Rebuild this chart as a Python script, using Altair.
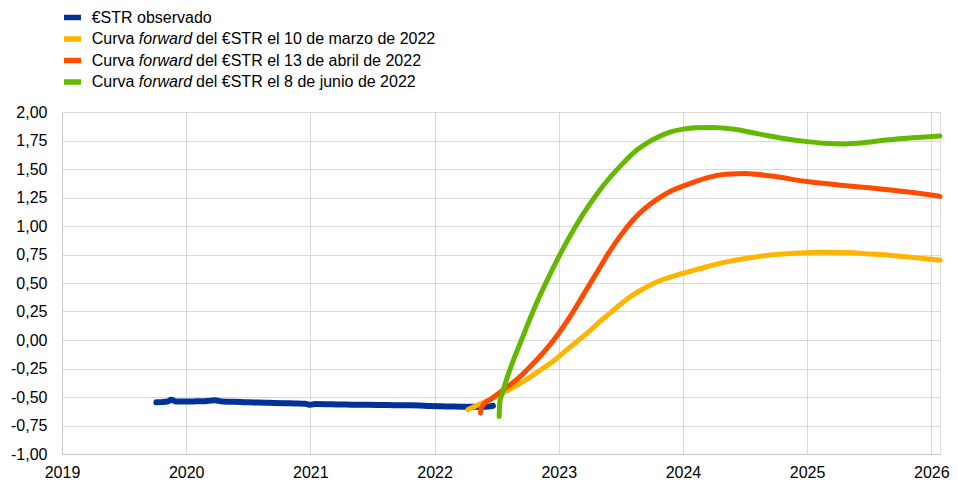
import altair as alt
import pandas as pd

FONT = "Liberation Sans"

# ---- axis values ----
x_years = [2019, 2020, 2021, 2022, 2023, 2024, 2025, 2026]
y_ticks = [-1.0, -0.75, -0.5, -0.25, 0.0, 0.25, 0.5, 0.75, 1.0, 1.25, 1.5, 1.75, 2.0]

# ---- observed €STR (decimal year, %) ----
obs_x = [2019.76, 2019.80, 2019.85, 2019.88, 2019.92, 2020.00, 2020.08, 2020.17, 2020.23,
         2020.29, 2020.38, 2020.46, 2020.54, 2020.63, 2020.71, 2020.79, 2020.88, 2020.96,
         2021.00, 2021.04, 2021.13, 2021.21, 2021.29, 2021.38, 2021.46, 2021.54, 2021.63,
         2021.71, 2021.79, 2021.88, 2021.96, 2022.04, 2022.13, 2022.21, 2022.29, 2022.38,
         2022.44, 2022.47]
obs_y = [-0.547, -0.545, -0.540, -0.525, -0.540, -0.540, -0.538, -0.535, -0.528,
         -0.540, -0.542, -0.545, -0.548, -0.550, -0.553, -0.555, -0.557, -0.560,
         -0.568, -0.562, -0.563, -0.565, -0.566, -0.568, -0.569, -0.570, -0.571,
         -0.572, -0.573, -0.575, -0.580, -0.582, -0.583, -0.585, -0.585, -0.585,
         -0.583, -0.578]

# ---- forward curve 10 March 2022 ----
mar_x = [2022.27, 2022.35, 2022.45, 2022.55, 2022.65, 2022.75, 2022.85, 2022.95, 2023.05,
         2023.15, 2023.25, 2023.35, 2023.45, 2023.55, 2023.65, 2023.75, 2023.85, 2023.95,
         2024.05, 2024.20, 2024.35, 2024.50, 2024.70, 2024.90, 2025.10, 2025.30, 2025.50,
         2025.70, 2025.90, 2026.07]
mar_y = [-0.61, -0.57, -0.52, -0.465, -0.405, -0.34, -0.265, -0.19, -0.10,
         -0.01, 0.08, 0.18, 0.27, 0.36, 0.43, 0.49, 0.535, 0.57,
         0.60, 0.645, 0.685, 0.715, 0.745, 0.76, 0.77, 0.768, 0.755,
         0.74, 0.72, 0.70]

# ---- forward curve 13 April 2022 ----
apr_x = [2022.37, 2022.375, 2022.40, 2022.45, 2022.50, 2022.60, 2022.70, 2022.80, 2022.90,
         2023.00, 2023.10, 2023.20, 2023.30, 2023.40, 2023.50, 2023.60, 2023.70, 2023.80,
         2023.90, 2024.00, 2024.10, 2024.20, 2024.35, 2024.50, 2024.70, 2025.00, 2025.25,
         2025.50, 2025.80, 2026.07]
apr_y = [-0.64, -0.60, -0.56, -0.52, -0.48, -0.40, -0.31, -0.20, -0.08,
         0.06, 0.22, 0.40, 0.58, 0.76, 0.92, 1.055, 1.16, 1.24,
         1.305, 1.35, 1.39, 1.425, 1.455, 1.46, 1.44, 1.39, 1.36,
         1.335, 1.30, 1.26]

# ---- forward curve 8 June 2022 ----
jun_x = [2022.52, 2022.525, 2022.55, 2022.60, 2022.70, 2022.80, 2022.90, 2023.00, 2023.10,
         2023.20, 2023.30, 2023.40, 2023.50, 2023.60, 2023.70, 2023.80, 2023.90, 2024.00,
         2024.10, 2024.25, 2024.40, 2024.60, 2024.80, 2025.00, 2025.15, 2025.30, 2025.45,
         2025.60, 2025.80, 2026.07]
jun_y = [-0.67, -0.55, -0.45, -0.28, 0.00, 0.27, 0.51, 0.73, 0.93,
         1.11, 1.27, 1.41, 1.53, 1.64, 1.72, 1.78, 1.825, 1.85,
         1.862, 1.865, 1.85, 1.81, 1.77, 1.74, 1.725, 1.72, 1.73,
         1.75, 1.77, 1.79]

# ---- legend ----
legend_a = ["€STR observado", "Curva", "Curva", "Curva"]
legend_b = ["", "forward", "forward", "forward"]
legend_c = ["", "del €STR el 10 de marzo de 2022", "del €STR el 13 de abril de 2022",
            "del €STR el 8 de junio de 2022"]
colors = ["#003299", "#FFB400", "#FF4B00", "#65B800"]

x_scale = alt.Scale(domain=[2019, 2026.07], nice=False, zero=False)
y_scale = alt.Scale(domain=[-1, 2], nice=False, zero=False)

x_axis = alt.Axis(values=x_years, format="d", title=None, grid=True, ticks=False, tickSize=0,
                  labelPadding=10, labelFlush=False, labelOverlap=False, labelBound=False,
                  labelFontSize=16, labelFont=FONT, labelColor="#000000",
                  domainColor="#c8c8c8", domainWidth=1, gridColor="#d9d9d9", gridWidth=1)
y_axis = alt.Axis(values=y_ticks, title=None, grid=True, ticks=False, tickSize=0,
                  labelPadding=15, labelOverlap=False, labelFlush=False,
                  labelFontSize=16, labelFont=FONT, labelColor="#000000",
                  labelExpr="(datum.value < 0 ? '-' : '') + replace(format(abs(datum.value), '.2f'), '.', ',')",
                  domainColor="#c8c8c8", domainWidth=1, gridColor="#d9d9d9", gridWidth=1)


def line_layer(xs, ys, color, width):
    df = pd.DataFrame({"x": xs, "y": ys})
    return alt.Chart(df).mark_line(
        color=color, strokeWidth=width, interpolate="monotone",
        strokeCap="round", strokeJoin="round"
    ).encode(
        x=alt.X("x:Q", scale=x_scale, axis=x_axis),
        y=alt.Y("y:Q", scale=y_scale, axis=y_axis),
    )


layers = [
    line_layer(obs_x, obs_y, colors[0], 6),
    line_layer(mar_x, mar_y, colors[1], 5),
    line_layer(apr_x, apr_y, colors[2], 5),
    line_layer(jun_x, jun_y, colors[3], 5),
]

one = pd.DataFrame({"k": [0]})
row_y = [-94.5, -73, -51.5, -30]
for i in range(4):
    yy = row_y[i]
    layers.append(alt.Chart(one).mark_rect(color=colors[i]).encode(
        x=alt.value(2), x2=alt.value(19), y=alt.value(yy - 2.75), y2=alt.value(yy + 2.75)))
    layers.append(alt.Chart(one).mark_text(
        align="left", baseline="middle", fontSize=16, font=FONT, color="#000000"
    ).encode(x=alt.value(29.7), y=alt.value(yy), text=alt.value(legend_a[i])))
    if legend_b[i]:
        layers.append(alt.Chart(one).mark_text(
            align="left", baseline="middle", fontSize=16, font=FONT, color="#000000",
            fontStyle="italic"
        ).encode(x=alt.value(76.8), y=alt.value(yy), text=alt.value(legend_b[i])))
        layers.append(alt.Chart(one).mark_text(
            align="left", baseline="middle", fontSize=16, font=FONT, color="#000000"
        ).encode(x=alt.value(134), y=alt.value(yy), text=alt.value(legend_c[i])))

chart = alt.layer(*layers).properties(
    width=878, height=342,
    padding={"left": 54, "top": 104, "right": 10, "bottom": 29},
    autosize=alt.AutoSizeParams(type="none"),
).configure_view(stroke=None).configure(background="white")

chart.save("out.html", embed_options={"renderer": "svg", "actions": False})
